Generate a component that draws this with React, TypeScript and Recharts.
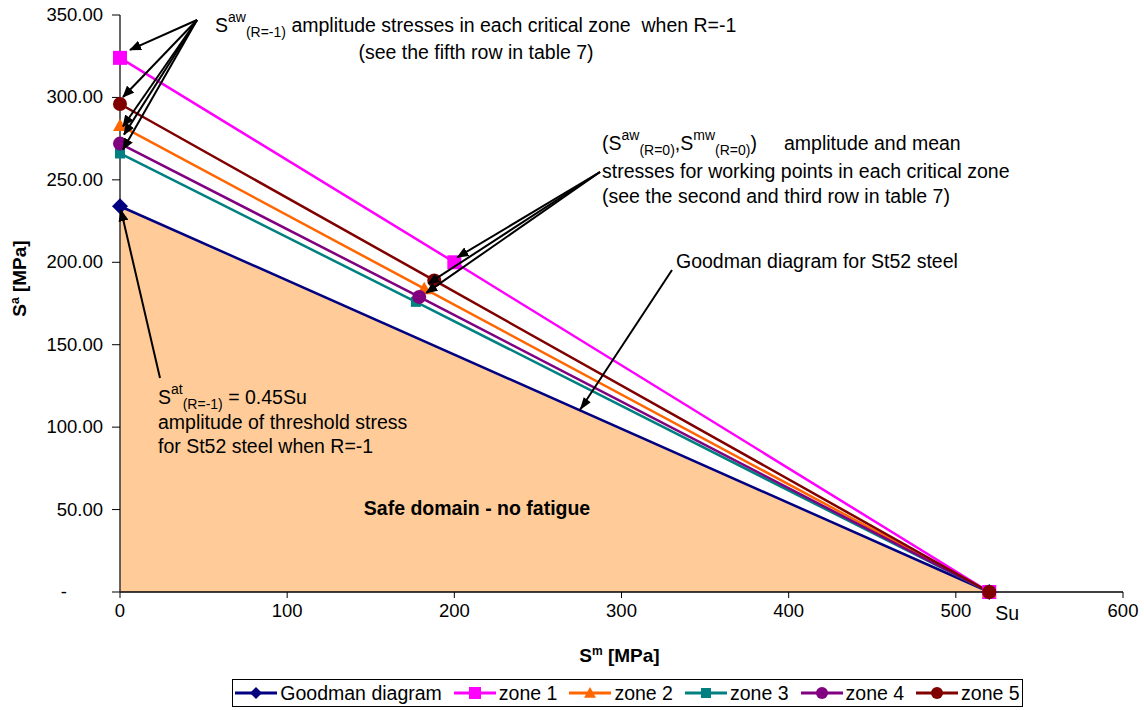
import React from "react";
import { ComposedChart, Area, Line, XAxis, YAxis, Legend } from "recharts";

const W = 1144;
const H = 710;
const FONT = "'Liberation Sans', Arial, sans-serif";

// Su of St52 steel [MPa]
const SU = 520;

const goodmanData = [
  { x: 0, y: 234 },
  { x: SU, y: 0 },
];
const zone1Data = [
  { x: 0, y: 324 },
  { x: 200, y: 200 },
  { x: SU, y: 0 },
];
const zone2Data = [
  { x: 0, y: 283 },
  { x: 182, y: 184 },
  { x: SU, y: 0 },
];
const zone3Data = [
  { x: 0, y: 266 },
  { x: 177, y: 176 },
  { x: SU, y: 0 },
];
const zone4Data = [
  { x: 0, y: 272 },
  { x: 179, y: 179 },
  { x: SU, y: 0 },
];
const zone5Data = [
  { x: 0, y: 296 },
  { x: 188, y: 189 },
  { x: SU, y: 0 },
];

const xTicks = [0, 100, 200, 300, 400, 500, 600];
const yTicks = [0, 50, 100, 150, 200, 250, 300, 350];

const series = [
  { name: "Goodman diagram", color: "#000080", shape: "diamond", size: 8 },
  { name: "zone 1", color: "#FF00FF", shape: "square", size: 7 },
  { name: "zone 2", color: "#FF6600", shape: "triangle", size: 7 },
  { name: "zone 3", color: "#008080", shape: "square", size: 5 },
  { name: "zone 4", color: "#800080", shape: "circle", size: 7 },
  { name: "zone 5", color: "#800000", shape: "circle", size: 7 },
];

// plot box, must agree with margins / axis sizes below
const PLOT = { left: 120, top: 15, right: 1123, bottom: 592 };
const sx = (v: number) => PLOT.left + (v / 600) * (PLOT.right - PLOT.left);
const sy = (v: number) => PLOT.bottom - (v / 350) * (PLOT.bottom - PLOT.top);

function Marker({ shape, cx, cy, color, size }: any) {
  if (cx == null || cy == null) return null;
  if (shape === "diamond") {
    return (
      <polygon
        points={`${cx},${cy - size} ${cx + size},${cy} ${cx},${cy + size} ${cx - size},${cy}`}
        fill={color}
      />
    );
  }
  if (shape === "square") {
    return <rect x={cx - size} y={cy - size} width={size * 2} height={size * 2} fill={color} />;
  }
  if (shape === "triangle") {
    return (
      <polygon
        points={`${cx},${cy - size} ${cx + size},${cy + size * 0.8} ${cx - size},${cy + size * 0.8}`}
        fill={color}
      />
    );
  }
  return <circle cx={cx} cy={cy} r={size} fill={color} />;
}

const dotFor = (i: number) => (p: any) => (
  <Marker key={`d${i}-${p.index}`} {...series[i]} cx={p.cx} cy={p.cy} />
);

function YTick({ x, y, payload }: any) {
  const v = payload.value;
  if (v === 0) {
    return (
      <text x={x - 36} y={y} dy={6} fontSize={18.5} fill="#000" fontFamily={FONT} textAnchor="end">
        -
      </text>
    );
  }
  return (
    <text x={x} y={y} dy={6} fontSize={18.5} fill="#000" fontFamily={FONT} textAnchor="end">
      {v.toFixed(2)}
    </text>
  );
}

function YTitle({ viewBox }: any) {
  const cx = 26;
  const cy = viewBox.y + viewBox.height / 2 - 25;
  return (
    <text
      x={cx}
      y={cy}
      transform={`rotate(-90 ${cx} ${cy})`}
      textAnchor="middle"
      fontSize={19}
      fontWeight="bold"
      fontFamily={FONT}
      fill="#000"
    >
      S<tspan dy={-7} fontSize={12}>a</tspan>
      <tspan dy={7}> [MPa]</tspan>
    </text>
  );
}

function XTitle({ viewBox }: any) {
  return (
    <text
      x={viewBox.x + viewBox.width / 2 - 2}
      y={662}
      textAnchor="middle"
      fontSize={19}
      fontWeight="bold"
      fontFamily={FONT}
      fill="#000"
    >
      S<tspan dy={-7} fontSize={12}>m</tspan>
      <tspan dy={7}> [MPa]</tspan>
    </text>
  );
}

function LegendBox() {
  return (
    <div
      style={{
        boxSizing: "border-box",
        height: 28,
        border: "1px solid #000",
        display: "flex",
        alignItems: "center",
        justifyContent: "center",
        fontFamily: FONT,
        fontSize: 19.5,
        background: "#fff",
      }}
    >
      {series.map((s, i) => (
        <span key={s.name} style={{ display: "flex", alignItems: "center", marginLeft: i ? 12 : 0 }}>
          <svg width={42} height={16}>
            <line x1={0} y1={8} x2={42} y2={8} stroke={s.color} strokeWidth={3} />
            <Marker {...s} cx={21} cy={8} size={Math.min(s.size, 6)} />
          </svg>
          <span style={{ marginLeft: 3 }}>{s.name}</span>
        </span>
      ))}
    </div>
  );
}

// annotation arrows: start in pixels, end on a data point plus a small offset
const arrows = [
  { from: [197, 20], to: [sx(zone1Data[0].x) + 10, sy(zone1Data[0].y) - 8] },
  { from: [197, 20], to: [sx(zone5Data[0].x) + 3, sy(zone5Data[0].y) - 7] },
  { from: [197, 20], to: [sx(zone2Data[0].x) + 3, sy(zone2Data[0].y) + 1] },
  { from: [197, 20], to: [sx(zone4Data[0].x) + 4, sy(zone4Data[0].y) - 9] },
  { from: [197, 20], to: [sx(zone3Data[0].x) + 3, sy(zone3Data[0].y) - 4] },
  { from: [600, 172], to: [sx(zone1Data[1].x) + 3, sy(zone1Data[1].y) - 5] },
  { from: [600, 172], to: [sx(zone2Data[1].x) + 4, sy(zone2Data[1].y) - 5] },
  { from: [600, 172], to: [sx(zone4Data[1].x) + 7, sy(zone4Data[1].y) - 4] },
  { from: [672, 270], to: [sx(275), sy(234 * (1 - 275 / SU))] },
  { from: [160, 378], to: [sx(goodmanData[0].x) + 1, sy(goodmanData[0].y) + 4] },
];

function Annotations() {
  const t = { fontFamily: FONT, fontSize: 19.5, fill: "#000" };
  const small = 14;
  return (
    <svg
      width={W}
      height={H}
      style={{ position: "absolute", left: 0, top: 0, pointerEvents: "none" }}
    >
      <defs>
        <marker id="ah" markerWidth="12" markerHeight="10" refX="11" refY="5" orient="auto" markerUnits="userSpaceOnUse">
          <polygon points="0,0 12,5 0,10" fill="#000" />
        </marker>
      </defs>
      {arrows.map((a, i) => (
        <line
          key={i}
          x1={a.from[0]}
          y1={a.from[1]}
          x2={a.to[0]}
          y2={a.to[1]}
          stroke="#000"
          strokeWidth={2}
          markerEnd={i === 8 ? undefined : "url(#ah)"}
        />
      ))}
      <polygon
        points={`${sx(275)},${sy(110.3)} ${sx(275) + 4},${sy(110.3) - 13} ${sx(275) + 11},${sy(110.3) - 8}`}
        fill="#000"
      />

      <text x={215} y={32} {...t} style={{ whiteSpace: "pre" }}>
        S<tspan dy={-10} fontSize={small}>aw</tspan>
        <tspan dy={15} fontSize={small}>(R=-1)</tspan>
        <tspan dy={-5}>{" amplitude stresses in each critical zone  when R=-1"}</tspan>
      </text>
      <text x={476} y={59} textAnchor="middle" {...t}>
        (see the fifth row in table 7)
      </text>

      <text x={602} y={150} {...t} style={{ whiteSpace: "pre" }}>
        (S<tspan dy={-10} fontSize={small}>aw</tspan>
        <tspan dy={15} fontSize={small}>(R=0)</tspan>
        <tspan dy={-5}>,S</tspan>
        <tspan dy={-10} fontSize={small}>mw</tspan>
        <tspan dy={15} fontSize={small}>(R=0)</tspan>
        <tspan dy={-5}>{")     amplitude and mean"}</tspan>
      </text>
      <text x={602} y={178} {...t}>
        stresses for working points in each critical zone
      </text>
      <text x={602} y={203} {...t}>
        (see the second and third row in table 7)
      </text>

      <text x={676} y={268} {...t}>
        Goodman diagram for St52 steel
      </text>

      <text x={158} y={404} {...t}>
        S<tspan dy={-10} fontSize={small}>at</tspan>
        <tspan dy={15} fontSize={small}>(R=-1)</tspan>
        <tspan dy={-5}> = 0.45Su</tspan>
      </text>
      <text x={158} y={429} {...t}>
        amplitude of threshold stress
      </text>
      <text x={158} y={453} {...t}>
        for St52 steel when R=-1
      </text>

      <text x={477} y={515} textAnchor="middle" {...t} fontWeight="bold">
        Safe domain - no fatigue
      </text>

      <text x={sx(SU) + 6} y={620} {...t}>
        Su
      </text>
    </svg>
  );
}

export default function App() {
  return (
    <div style={{ position: "absolute", left: 0, top: 0, width: W, height: H, background: "#fff", fontFamily: FONT }}>
      <ComposedChart width={W} height={H} margin={{ top: 15, right: 21, left: 0, bottom: 3 }}>
        <XAxis
          type="number"
          dataKey="x"
          domain={[0, 600]}
          ticks={xTicks}
          height={87}
          tickSize={6}
          tickMargin={6}
          tick={{ fontSize: 18.5, fill: "#000", fontFamily: FONT }}
          axisLine={{ stroke: "#000", strokeWidth: 1.5 }}
          tickLine={{ stroke: "#000" }}
          label={<XTitle />}
        />
        <YAxis
          type="number"
          dataKey="y"
          domain={[0, 350]}
          ticks={yTicks}
          width={120}
          tickSize={8}
          tickMargin={9}
          tick={<YTick />}
          axisLine={{ stroke: "#333", strokeWidth: 1.5 }}
          tickLine={{ stroke: "#000" }}
          label={<YTitle />}
        />
        <Legend
          verticalAlign="bottom"
          content={() => <LegendBox />}
          wrapperStyle={{ left: 232, width: 791, bottom: 3 }}
        />
        <Area
          data={goodmanData}
          dataKey="y"
          name="Goodman diagram"
          type="linear"
          stroke={series[0].color}
          strokeWidth={2.5}
          fill="#FFCC99"
          fillOpacity={1}
          dot={dotFor(0)}
          activeDot={false}
          isAnimationActive={false}
        />
        {[zone1Data, zone2Data, zone3Data, zone4Data, zone5Data].map((d, k) => (
          <Line
            key={series[k + 1].name}
            data={d}
            dataKey="y"
            name={series[k + 1].name}
            type="linear"
            stroke={series[k + 1].color}
            strokeWidth={2.5}
            dot={dotFor(k + 1)}
            activeDot={false}
            isAnimationActive={false}
          />
        ))}
      </ComposedChart>
      <Annotations />
    </div>
  );
}
